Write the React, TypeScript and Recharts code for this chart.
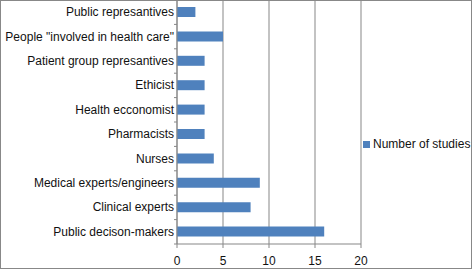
import React from 'react';
import { BarChart, Bar, XAxis, YAxis, CartesianGrid, Legend } from 'recharts';

const categories = [
  'Public represantives',
  'People "involved in health care"',
  'Patient group represantives',
  'Ethicist',
  'Health ecconomist',
  'Pharmacists',
  'Nurses',
  'Medical experts/engineers',
  'Clinical experts',
  'Public decison-makers',
];
const studies = [2, 5, 3, 3, 3, 3, 4, 9, 8, 16];
const xTicks = [0, 5, 10, 15, 20];
const seriesName = 'Number of studies';

const data = categories.map((c, i) => ({ category: c, value: studies[i] }));

const W = 473;
const H = 270;
const PLOT_TOP = 0;
const X_AXIS_H = 26;
const Y_AXIS_W = 177;
const RIGHT = 112;
const BAR_COLOR = '#4F81BD';
const GRID = '#878787';
const FONT = '"Liberation Sans", Arial, Helvetica, sans-serif';
const BAND = (H - PLOT_TOP - X_AXIS_H) / categories.length;

const CatTick = (props: any) => {
  const { x, y, payload, index } = props;
  return (
    <g>
      <text x={x} y={y} textAnchor="end" dominantBaseline="central" fontSize={12} fill="#111" fontFamily={FONT}>
        {payload.value}
      </text>
      <line x1={x} x2={x + 3} y1={y + BAND / 2} y2={y + BAND / 2} stroke={GRID} strokeWidth={1} />
      {index === 0 ? (
        <line x1={x} x2={x + 3} y1={y - BAND / 2} y2={y - BAND / 2} stroke={GRID} strokeWidth={1} />
      ) : null}
    </g>
  );
};

const LegendContent = () => (
  <div style={{ display: 'flex', alignItems: 'center', fontFamily: FONT, fontSize: 12, color: '#111', whiteSpace: 'nowrap' }}>
    <span style={{ display: 'inline-block', width: 7, height: 7, background: BAR_COLOR, marginRight: 3 }} />
    <span>{seriesName}</span>
  </div>
);

export default function App() {
  return (
    <div style={{ position: 'absolute', left: 0, top: 0, width: W, height: H, background: '#fff' }}>
      <BarChart
        width={W}
        height={H}
        data={data}
        layout="vertical"
        margin={{ top: PLOT_TOP, right: RIGHT, bottom: 0, left: 0 }}
        barCategoryGap={7}
      >
        <CartesianGrid horizontal={false} vertical={true} stroke={GRID} strokeWidth={1} />
        <XAxis
          type="number"
          domain={[0, 20]}
          ticks={xTicks}
          interval={0}
          height={X_AXIS_H}
          stroke={GRID}
          tickSize={4}
          tickMargin={8}
          tick={{ fontSize: 12, fill: '#111', fontFamily: FONT }}
        />
        <YAxis
          type="category"
          dataKey="category"
          width={Y_AXIS_W}
          stroke={GRID}
          tickLine={false}
          tickSize={3}
          tickMargin={0}
          interval={0}
          tick={<CatTick />}
        />
        <Legend
          layout="vertical"
          verticalAlign="middle"
          align="center"
          content={<LegendContent />}
          wrapperStyle={{ left: 363, top: 137, right: 'auto', width: 'auto' }}
        />
        <Bar dataKey="value" name={seriesName} fill={BAR_COLOR} barSize={10} isAnimationActive={false} />
      </BarChart>
      <div style={{ position: 'absolute', left: 0, top: 0, width: 472, height: 269, boxSizing: 'border-box', border: '1px solid #888', pointerEvents: 'none' }} />
    </div>
  );
}
